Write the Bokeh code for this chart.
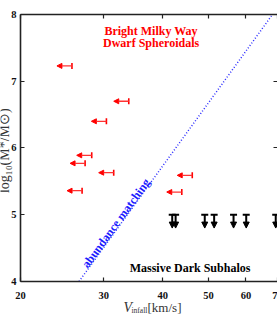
import math
from bokeh.plotting import figure
from bokeh.models import (ColumnDataSource, Arrow, NormalHead, TeeHead, Label, LogAxis, LinearAxis,
                          FixedTicker, CustomJSTickFormatter, Range1d)
from bokeh.embed import file_html
from bokeh.resources import INLINE

# ---- data ----
dwarf_vmax = [25.7, 33.9, 30.4, 28.3, 27.4, 31.5, 27.0, 46.2, 43.9]   # upper limits (cap position)
dwarf_logm = [7.23, 6.70, 6.40, 5.89, 5.77, 5.63, 5.36, 5.59, 5.34]
subhalo_vinfall = [41.9, 42.6, 49.1, 51.4, 56.5, 60.1, 69.4]
subhalo_logm = [5.0, 5.0, 5.0, 5.0, 5.0, 5.0, 5.0]
am_vinfall = [26.6, 68.3]
am_logm = [4.0, 8.0]
x_ticks = [20, 30, 40, 50, 60, 70]
x_tick_labels = ["20", "30", "40", "50", "60", "70"]
y_ticks = [4, 5, 6, 7, 8]
y_tick_labels = ["4", "5", "6", "7", "8"]

SERIF = "Liberation Serif"
AX = "#222222"
X_MIN, X_MAX = 20, 70
Y_MIN, Y_MAX = 4, 8

# the frame fills the whole canvas; the axes are drawn at fixed data positions inside it,
# so that every text (tick labels, titles) lies inside the frame
p = figure(width=277, height=315, x_axis_type="log",
           x_range=Range1d(18.14, X_MAX), y_range=Range1d(3.49, 8.21),
           output_backend="svg", toolbar_location=None,
           min_border_left=0, min_border_right=0, min_border_top=0, min_border_bottom=0)
p.outline_line_color = None
p.grid.visible = False
p.background_fill_color = "white"
p.border_fill_color = "white"

def style(ax, ticks, line=True):
    ax.ticker = FixedTicker(ticks=ticks, minor_ticks=[])
    ax.major_tick_in = 4
    ax.major_tick_out = 0
    ax.minor_tick_in = 0
    ax.minor_tick_out = 0
    ax.major_tick_line_color = AX
    ax.major_tick_line_width = 1.2
    ax.axis_line_width = 1.6
    ax.axis_line_color = AX if line else None
    ax.formatter = CustomJSTickFormatter(code="return ''")
    ax.major_label_standoff = 0
    ax.major_label_text_font_size = "0px"

style(p.xaxis[0], x_ticks)
p.xaxis[0].fixed_location = Y_MIN
p.xaxis[0].bounds = (X_MIN, X_MAX)

style(p.yaxis[0], y_ticks)
p.yaxis[0].fixed_location = X_MIN
p.yaxis[0].bounds = (Y_MIN, Y_MAX)

top = LogAxis()
style(top, x_ticks)
top.fixed_location = Y_MAX
top.bounds = (X_MIN, X_MAX)
p.add_layout(top, "above")

right = LinearAxis()
style(right, y_ticks, line=False)
right.bounds = (Y_MIN, Y_MAX)
p.add_layout(right, "right")

# tick labels
for tv, tl in zip(x_ticks, x_tick_labels):
    p.add_layout(Label(x=tv, y=3.795, text=tl, text_align="center", text_baseline="alphabetic",
                       text_font=SERIF, text_font_style="bold", text_font_size="10.5px",
                       text_color="#111111"))
for tv, tl in zip(y_ticks, y_tick_labels):
    p.add_layout(Label(x=19.61, y=tv, text=tl, text_align="right", text_baseline="middle",
                       text_font=SERIF, text_font_style="bold", text_font_size="10.5px",
                       text_color="#111111"))

# abundance matching relation
p.line(am_vinfall, am_logm, line_color="#2b2bff", line_width=1.5, line_dash="1 2")

# red upper-limit arrows (pointing to lower V)
red_src = ColumnDataSource(dict(xs=dwarf_vmax, xe=[v / 1.076 for v in dwarf_vmax], y=dwarf_logm))
p.add_layout(Arrow(source=red_src, x_start="xs", y_start="y", x_end="xe", y_end="y",
                   line_color="#ff3333", line_width=1.3,
                   start=TeeHead(size=6, line_color="#ff0000", line_width=1.6),
                   end=NormalHead(size=5, fill_color="#ff0000", line_color="#ff0000", line_width=1)))

# black downward arrows
blk_src = ColumnDataSource(dict(x=subhalo_vinfall, ys=subhalo_logm, ye=[m - 0.2 for m in subhalo_logm]))
p.add_layout(Arrow(source=blk_src, x_start="x", y_start="ys", x_end="x", y_end="ye",
                   line_color="#000000", line_width=2,
                   start=TeeHead(size=7, line_color="#000000", line_width=2),
                   end=NormalHead(size=6, fill_color="#000000", line_color="#000000", line_width=1)))

# texts
for txt, yv in (("Bright Milky Way", 7.76), ("Dwarf Spheroidals", 7.58)):
    p.add_layout(Label(x=37.8, y=yv, text=txt, text_align="center", text_baseline="alphabetic",
                       text_font=SERIF, text_font_style="bold", text_font_size="12px",
                       text_color="#ff0000"))
p.add_layout(Label(x=45.7, y=4.195, text="Massive Dark Subhalos", text_align="center",
                   text_baseline="alphabetic", text_font=SERIF, text_font_style="bold",
                   text_font_size="12px", text_color="#000000"))
p.add_layout(Label(x=27.32, y=4.225, text="abundance matching", angle=math.radians(54),
                   text_align="left", text_baseline="alphabetic", text_font=SERIF,
                   text_font_style="bold", text_font_size="12px", text_color="#1a1aff"))

# axis titles
p.add_layout(Label(x=33.05, y=3.61, text="V",
                   text_font=SERIF, text_font_style="italic", text_font_size="14px",
                   text_color="#333333", text_baseline="alphabetic", text_align="left"))
p.add_layout(Label(x=34.36, y=3.565, text="infall",
                   text_font=SERIF, text_font_size="7.5px",
                   text_color="#333333", text_baseline="alphabetic", text_align="left"))
p.add_layout(Label(x=37.15, y=3.61, text="[km/s]",
                   text_font=SERIF, text_font_size="13px",
                   text_color="#333333", text_baseline="alphabetic", text_align="left"))
p.add_layout(Label(x=18.5, y=5.96, text="log₁₀(M*/M⊙)",
                   angle=math.pi / 2, text_font=SERIF, text_font_size="14px",
                   text_color="#333333", text_baseline="alphabetic", text_align="center"))

open("out.html", "w").write(file_html(p, INLINE))
